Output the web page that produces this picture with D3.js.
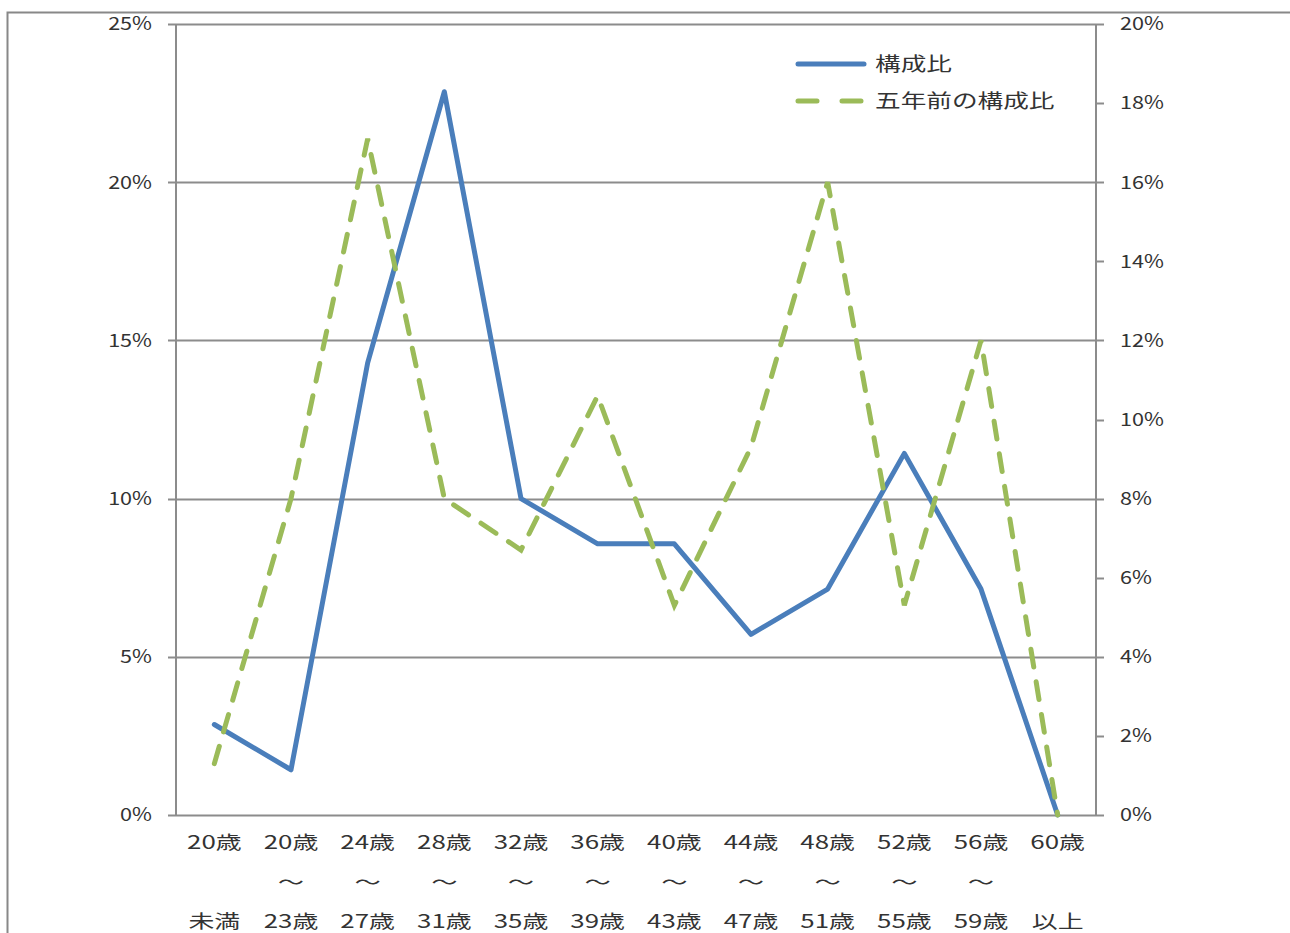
<!DOCTYPE html>
<html>
<head>
<meta charset="utf-8">
<script src="https://cdn.jsdelivr.net/npm/d3@7"></script>
<style>
  body { margin: 0; background: #fff; }
  svg text { font-family: "Noto Sans CJK JP", "Noto Sans", sans-serif; fill: #333; }
</style>
</head>
<body>
<div class="chart"></div>
<script>
// データ
const ageTop = ["20歳", "20歳", "24歳", "28歳", "32歳", "36歳", "40歳", "44歳", "48歳", "52歳", "56歳", "60歳"];
const ageMid = ["", "～", "～", "～", "～", "～", "～", "～", "～", "～", "～", ""];
const ageBottom = ["未満", "23歳", "27歳", "31歳", "35歳", "39歳", "43歳", "47歳", "51歳", "55歳", "59歳", "以上"];
const ratioNow = [2.86, 1.43, 14.29, 22.86, 10.0, 8.57, 8.57, 5.71, 7.14, 11.43, 7.14, 0];
const ratioPrev = [1.3, 8.0, 17.1, 8.0, 6.7, 10.6, 5.3, 9.3, 16.0, 5.3, 12.0, 0];
const leftTicks = [0, 5, 10, 15, 20, 25];
const rightTicks = [0, 2, 4, 6, 8, 10, 12, 14, 16, 18, 20];
const seriesNames = ["構成比", "五年前の構成比"];

const W = 1290, H = 933;
const m = { left: 176, right: 1096, top: 24, bottom: 815 };

let svg = d3.select(".chart").append("svg")
    .attr("width", W)
    .attr("height", H);

// 横に伸びた文字 (元画像が横長のため)
function place(px, py, sx) {
    return "translate(" + px + "," + py + ") scale(" + sx + ",1)";
}

// 外枠
svg.append("path")
    .attr("d", "M7.5," + H + " V12.5 H" + W)
    .attr("fill", "none")
    .attr("stroke", "#888")
    .attr("stroke-width", 2);

let x = d3.scaleBand()
    .domain(d3.range(ageTop.length))
    .range([m.left, m.right]);

let yL = d3.scaleLinear().domain([0, 25]).range([m.bottom, m.top]);
let yR = d3.scaleLinear().domain([0, 20]).range([m.bottom, m.top]);

// グリッド線
svg.append("g")
    .selectAll("line")
    .data(leftTicks)
    .join("line")
    .attr("x1", m.left - 8)
    .attr("x2", m.right)
    .attr("y1", d => Math.round(yL(d)) + 0.5)
    .attr("y2", d => Math.round(yL(d)) + 0.5)
    .attr("stroke", "#8c8c8c")
    .attr("stroke-width", 2);

// 左軸
svg.append("line")
    .attr("x1", m.left).attr("x2", m.left)
    .attr("y1", m.top).attr("y2", m.bottom)
    .attr("stroke", "#8c8c8c").attr("stroke-width", 2);

svg.append("g")
    .selectAll("text")
    .data(leftTicks)
    .join("text")
    .attr("transform", d => place(152, yL(d), 1.2))
    .attr("dy", "0.35em")
    .attr("text-anchor", "end")
    .attr("font-size", 18)
    .text(d => d + "%");

// 右軸
svg.append("line")
    .attr("x1", m.right).attr("x2", m.right)
    .attr("y1", m.top).attr("y2", m.bottom)
    .attr("stroke", "#8c8c8c").attr("stroke-width", 2);

svg.append("g")
    .selectAll("line")
    .data(rightTicks)
    .join("line")
    .attr("x1", m.right)
    .attr("x2", m.right + 8)
    .attr("y1", d => Math.round(yR(d)) + 0.5)
    .attr("y2", d => Math.round(yR(d)) + 0.5)
    .attr("stroke", "#8c8c8c")
    .attr("stroke-width", 2);

svg.append("g")
    .selectAll("text")
    .data(rightTicks)
    .join("text")
    .attr("transform", d => place(1120, yR(d), 1.2))
    .attr("dy", "0.35em")
    .attr("font-size", 18)
    .text(d => d + "%");

// X軸ラベル
[ageTop, ageMid, ageBottom].forEach(function (labels, row) {
    svg.append("g")
        .selectAll("text")
        .data(labels)
        .join("text")
        .attr("transform", (d, i) => place(x(i) + x.bandwidth() / 2, 843 + row * 39.5, 1.4))
        .attr("dy", "0.35em")
        .attr("text-anchor", "middle")
        .attr("font-size", 18.5)
        .text(d => d);
});

// 折れ線
let lineL = d3.line()
    .x((d, i) => x(i) + x.bandwidth() / 2)
    .y(d => yL(d));
let lineR = d3.line()
    .x((d, i) => x(i) + x.bandwidth() / 2)
    .y(d => yR(d));

svg.append("path")
    .attr("d", lineL(ratioNow))
    .attr("fill", "none")
    .attr("stroke", "#4a7ebb")
    .attr("stroke-width", 5)
    .attr("stroke-linejoin", "round")
    .attr("stroke-linecap", "round");

svg.append("path")
    .attr("d", lineR(ratioPrev))
    .attr("fill", "none")
    .attr("stroke", "#9bbb59")
    .attr("stroke-width", 5)
    .attr("stroke-dasharray", "18,15")
    .attr("stroke-linecap", "round");

// 凡例
let legend = svg.append("g");
legend.append("line")
    .attr("x1", 798).attr("x2", 864)
    .attr("y1", 64).attr("y2", 64)
    .attr("stroke", "#4a7ebb").attr("stroke-width", 5)
    .attr("stroke-linecap", "round");
legend.append("line")
    .attr("x1", 798).attr("x2", 864)
    .attr("y1", 101).attr("y2", 101)
    .attr("stroke", "#9bbb59").attr("stroke-width", 5)
    .attr("stroke-dasharray", "19,25")
    .attr("stroke-linecap", "round");
legend.selectAll("text")
    .data(seriesNames)
    .join("text")
    .attr("transform", (d, i) => place(875, 64 + i * 37, 1.35))
    .attr("dy", "0.35em")
    .attr("font-size", 19)
    .text(d => d);
</script>
</body>
</html>
